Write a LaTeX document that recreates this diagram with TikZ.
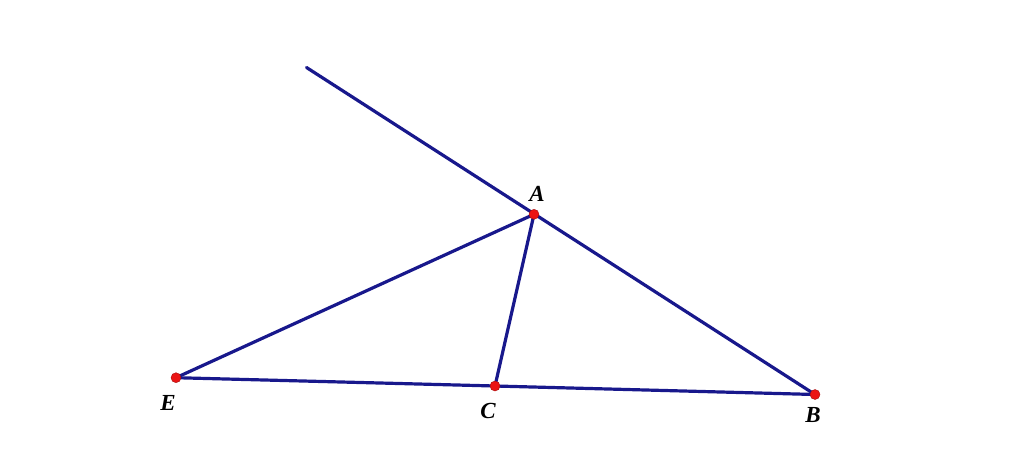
\documentclass[tikz,border=0pt]{standalone}
\usepackage{fontspec}
\setmainfont{Liberation Serif}
\definecolor{seg}{RGB}{24,24,140}
\definecolor{pt}{RGB}{235,20,20}
\begin{document}
\begin{tikzpicture}[x=1pt,y=-1pt,
  seg/.style={draw=seg,line width=3.2pt,line cap=round},
  dot/.style={circle,fill=pt,draw=pt!70!black,line width=0.4pt,inner sep=0pt,minimum size=10pt},
  lab/.style={font=\fontsize{23}{23}\selectfont\bfseries\itshape,inner sep=0pt}]
\useasboundingbox (0,0) rectangle (1024,457);
\coordinate (P) at (306.5,67.5);
\coordinate (A) at (534,214.3);
\coordinate (E) at (176,377.7);
\coordinate (C) at (495,386);
\coordinate (B) at (815,394.5);
\draw[seg] (P) -- (B);
\draw[seg] (E) -- (A) -- (C);
\draw[seg] (E) -- (C) -- (B);
\node[dot] (dA) at (A) {};
\node[dot] (dE) at (E) {};
\node[dot] (dC) at (C) {};
\node[dot] (dB) at (B) {};
\node[lab] (lA) at (537,194) {A};
\node[lab] (lE) at (168,403) {E};
\node[lab] (lC) at (488,411) {C};
\node[lab] (lB) at (813,415) {B};
\end{tikzpicture}
\end{document}
